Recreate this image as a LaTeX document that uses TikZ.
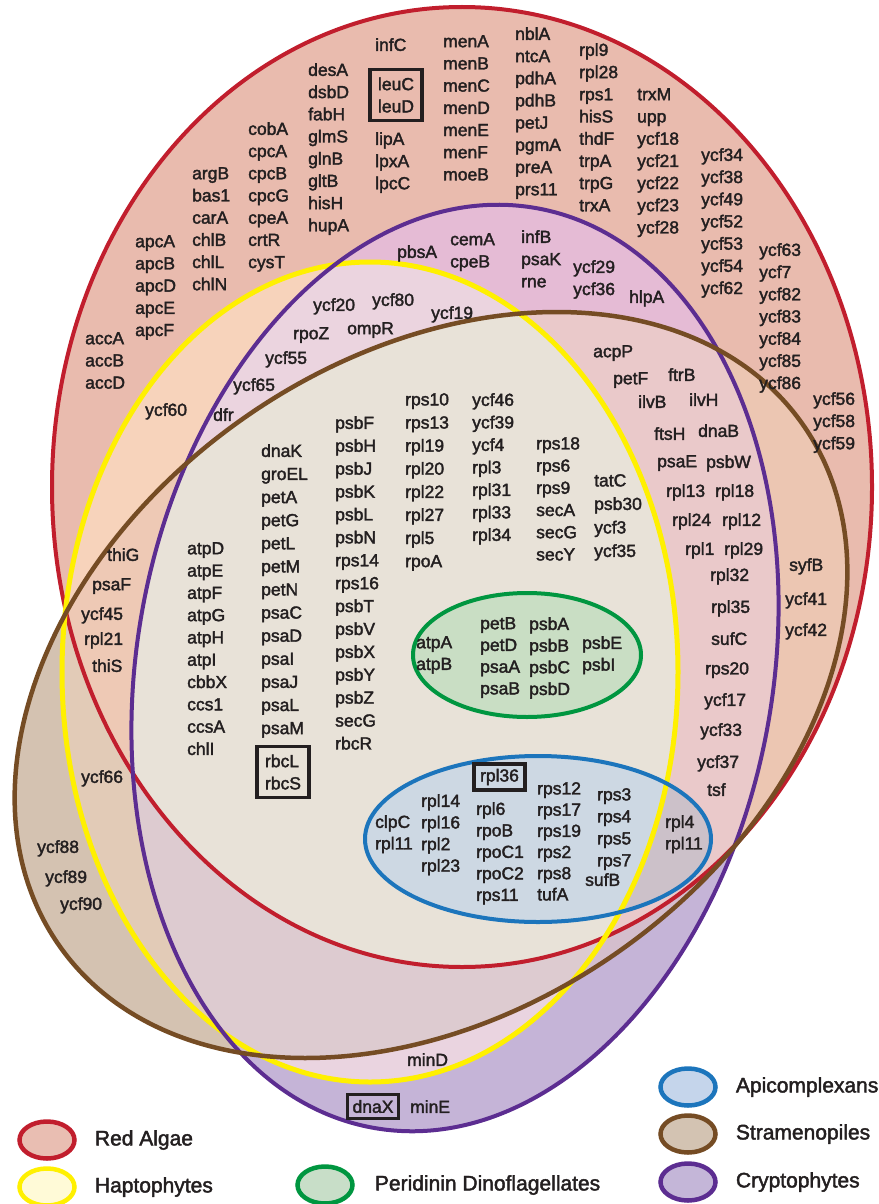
\documentclass[tikz,border=0pt]{standalone}
\usepackage{fontspec}
\setmainfont{Liberation Sans}
\newfontfamily\genefont{Liberation Sans}[RawFeature={embolden=2}]
\usetikzlibrary{positioning, shapes.geometric}

\definecolor{ink}{RGB}{35,31,32}
\definecolor{redline}{RGB}{193,30,45}
\definecolor{yelline}{RGB}{255,240,0}
\definecolor{purline}{RGB}{92,45,145}
\definecolor{brnline}{RGB}{117,76,36}
\definecolor{grnline}{RGB}{0,150,64}
\definecolor{bluline}{RGB}{28,117,188}
% zone fills (R=red algae, Y=haptophytes, P=cryptophytes, B=stramenopiles)
\definecolor{zR}{RGB}{233,187,174}
\definecolor{zP}{RGB}{197,180,215}
\definecolor{zB}{RGB}{212,194,177}
\definecolor{zRY}{RGB}{247,211,187}
\definecolor{zRP}{RGB}{229,187,213}
\definecolor{zRB}{RGB}{236,198,178}
\definecolor{zYP}{RGB}{234,212,224}
\definecolor{zYB}{RGB}{226,203,183}
\definecolor{zPB}{RGB}{212,190,205}
\definecolor{zRYP}{RGB}{235,212,223}
\definecolor{zRYB}{RGB}{238,201,181}
\definecolor{zRPB}{RGB}{234,201,202}
\definecolor{zYPB}{RGB}{221,203,208}
\definecolor{zRYPB}{RGB}{232,226,216}
\definecolor{grnfill}{RGB}{201,222,196}
\definecolor{blufill}{RGB}{205,216,227}
\definecolor{bluout}{RGB}{204,193,201}
% legend fills
\definecolor{keyR}{RGB}{233,190,178}
\definecolor{keyY}{RGB}{255,250,215}
\definecolor{keyG}{RGB}{200,222,200}
\definecolor{keyA}{RGB}{197,213,235}
\definecolor{keyS}{RGB}{211,195,178}
\definecolor{keyC}{RGB}{196,182,216}

\newcommand\redpath{(462,487) ellipse [x radius=410, y radius=480]}
\newcommand\yelpath{(370,672) ellipse [x radius=308, y radius=410]}
\newcommand\purpath{(455,668) ellipse [x radius=318, y radius=467, rotate=-10]}
\newcommand\brnpath{(431,685) ellipse [x radius=454, y radius=326, rotate=35]}
\newcommand\grnpath{(527,655) ellipse [x radius=114, y radius=62]}
\newcommand\blupath{(538,839) ellipse [x radius=173, y radius=83]}
\newcommand\zone[2]{\begin{scope}#2\fill[#1] (0,0) rectangle (878,1204);\end{scope}}

\tikzset{
  genes/.style={font=\genefont\fontsize{17.5}{#1}\selectfont, align=left, anchor=north west,
                inner sep=0pt, text=ink},
  genes/.default=22.2,
  boxed/.style={draw=ink, line width=3.5pt, inner sep=8pt, align=left,
                font=\genefont\fontsize{17.5}{22.2}\selectfont, text=ink},
  key/.style={ellipse, line width=4.5pt, minimum width=55pt, minimum height=37pt, inner sep=0pt},
  keytext/.style={font=\genefont\fontsize{21}{25}\selectfont, inner sep=0pt, text=ink}
}

\begin{document}
\begin{tikzpicture}[x=1pt, y=-1pt]
\useasboundingbox (0,0) rectangle (878,1204);

% overlap zones, painted from single sets up to all four
\zone{zR}{\clip\redpath;}
\zone{zP}{\clip\purpath;}
\zone{zB}{\clip\brnpath;}
\zone{zRY}{\clip\redpath;\clip\yelpath;}
\zone{zRP}{\clip\redpath;\clip\purpath;}
\zone{zRB}{\clip\redpath;\clip\brnpath;}
\zone{zYP}{\clip\yelpath;\clip\purpath;}
\zone{zYB}{\clip\yelpath;\clip\brnpath;}
\zone{zPB}{\clip\purpath;\clip\brnpath;}
\zone{zRYP}{\clip\redpath;\clip\yelpath;\clip\purpath;}
\zone{zRYB}{\clip\redpath;\clip\yelpath;\clip\brnpath;}
\zone{zRPB}{\clip\redpath;\clip\purpath;\clip\brnpath;}
\zone{zYPB}{\clip\yelpath;\clip\purpath;\clip\brnpath;}
\zone{zRYPB}{\clip\redpath;\clip\yelpath;\clip\purpath;\clip\brnpath;}

\fill[grnfill] \grnpath;
\fill[blufill] \blupath;
\begin{scope}
  \clip \blupath;
  \fill[bluout, even odd rule] (0,0) rectangle (878,1204) \yelpath;
\end{scope}

\draw[redline, line width=4pt] \redpath;
\draw[yelline, line width=5pt] \yelpath;
\draw[purline, line width=4pt] \purpath;
\draw[brnline, line width=4.5pt] \brnpath;
\draw[grnline, line width=4pt] \grnpath;
\draw[bluline, line width=4pt] \blupath;

% red algae only
\node[genes] (desCol) at (308,63) {desA\\dsbD\\fabH\\glmS\\glnB\\gltB\\hisH\\hupA};
\node[boxed] (leuBox) at (396,95) {leuC\\leuD};
\node[genes] (lipCol) at (375,132) {lipA\\lpxA\\lpcC};
\node[genes] (cobCol) at (248,122) {cobA\\cpcA\\cpcB\\cpcG\\cpeA\\crtR\\cysT};
\node[genes] (argCol) at (192,167) {argB\\bas1\\carA\\chlB\\chlL\\chlN};
\node[genes] (apcCol) at (135,235) {apcA\\apcB\\apcD\\apcE\\apcF};
\node[genes] (accCol) at (85,332) {accA\\accB\\accD};
\node[genes] (menCol) at (443,35) {menA\\menB\\menC\\menD\\menE\\menF\\moeB};
\node[genes] (nblCol) at (515,27) {nblA\\ntcA\\pdhA\\pdhB\\petJ\\pgmA\\preA\\prs11};
\node[genes] (rplNineCol) at (579,43) {rpl9\\rpl28\\rps1\\hisS\\thdF\\trpA\\trpG\\trxA};
\node[genes] (trxCol) at (637,88) {trxM\\upp\\ycf18\\ycf21\\ycf22\\ycf23\\ycf28};
\node[genes] (ycfA) at (701,148) {ycf34\\ycf38\\ycf49\\ycf52\\ycf53\\ycf54\\ycf62};
\node[genes] (ycfB) at (759,243) {ycf63\\ycf7\\ycf82\\ycf83\\ycf84\\ycf85\\ycf86};
\node[genes] (ycfC) at (813,392) {ycf56\\ycf58\\ycf59};

% red algae + cryptophytes
\node[genes] (cemCol) at (450,233) {cemA\\cpeB};
\node[genes] (infBCol) at (521,230) {infB\\psaK\\rne};
\node[genes] (ycfD) at (573,260) {ycf29\\ycf36};

% single genes
\foreach \gx/\gy/\gn in {375/38/infC, 397/245/pbsA, 629/290/hlpA,
    313/298/ycf20, 372/293/ycf80, 431/306/ycf19, 293/327/rpoZ, 347/322/ompR,
    265/351/ycf55, 233/378/ycf65, 213/408/dfr, 145/403/ycf60,
    593/345/acpP, 613/372/petF, 668/368/ftrB, 638/395/ilvB, 689/393/ilvH,
    654/427/ftsH, 698/424/dnaB, 657/455/psaE, 706/455/psbW,
    666/484/rpl13, 715/484/rpl18, 672/513/rpl24, 722/513/rpl12,
    685/542/rpl1, 724/542/rpl29, 710/568/rpl32, 711/600/rpl35,
    711/632/sufC, 705/662/rps20, 704/693/ycf17, 700/723/ycf33,
    697/755/ycf37, 707/783/tsf, 789/558/syfB, 785/592/ycf41, 785/623/ycf42,
    107/548/thiG, 92/578/psaF, 81/607/ycf45, 84/632/rpl21, 92/659/thiS,
    81/770/ycf66, 37/840/ycf88, 45/870/ycf89, 60/897/ycf90,
    585/873/sufB, 407/1053/minD, 410/1100/minE}
  \node[genes] (\gn) at (\gx,\gy) {\gn};

% shared by all four
\node[genes=22.3] (atpCol) at (187,542) {atpD\\atpE\\atpF\\atpG\\atpH\\atpI\\cbbX\\ccs1\\ccsA\\chlI};
\node[genes=23.1] (dnaCol) at (261,444) {dnaK\\groEL\\petA\\petG\\petL\\petM\\petN\\psaC\\psaD\\psaI\\psaJ\\psaL\\psaM};
\node[boxed] (rbcBox) at (283,772) {rbcL\\rbcS};
\node[genes=22.9] (psbCol) at (335,416) {psbF\\psbH\\psbJ\\psbK\\psbL\\psbN\\rps14\\rps16\\psbT\\psbV\\psbX\\psbY\\psbZ\\secG\\rbcR};
\node[genes=23.1] (rpsCol) at (405,393) {rps10\\rps13\\rpl19\\rpl20\\rpl22\\rpl27\\rpl5\\rpoA};
\node[genes=22.5] (ycfE) at (472,393) {ycf46\\ycf39\\ycf4\\rpl3\\rpl31\\rpl33\\rpl34};
\node[genes=22.2] (rpsEight) at (536,437) {rps18\\rps6\\rps9\\secA\\secG\\secY};
\node[genes=23.5] (tatCol) at (594,474) {tatC\\psb30\\ycf3\\ycf35};

% peridinin dinoflagellates
\node[genes=21.7] (atpAB) at (416,636) {atpA\\atpB};
\node[genes=21.7] (petCol) at (480,617) {petB\\petD\\psaA\\psaB};
\node[genes=21.7] (psbACol) at (529,617) {psbA\\psbB\\psbC\\psbD};
\node[genes=21.7] (psbECol) at (582,636) {psbE\\psbI};

% apicomplexans
\node[genes=21.6] (clpCol) at (375,815) {clpC\\rpl11};
\node[genes=21.6] (rplCol) at (421,794) {rpl14\\rpl16\\rpl2\\rpl23};
\node[boxed, inner xsep=6pt, inner ysep=5pt] (rplBox) at (499.5,777) {rpl36};
\node[genes=21.5] (rpoCol) at (476,802) {rpl6\\rpoB\\rpoC1\\rpoC2\\rps11};
\node[genes=21.2] (rpsTwelve) at (537,782) {rps12\\rps17\\rps19\\rps2\\rps8\\tufA};
\node[genes=22] (rpsThree) at (597,788) {rps3\\rps4\\rps5\\rps7};
\node[genes=21.6] (rplFour) at (665,815) {rpl4\\rpl11};

\node[boxed, inner xsep=5pt, inner ysep=5.5pt] (dnaBox) at (373,1106.5) {dnaX};

% legend
\node[key, draw=redline, fill=keyR] (keyRed) at (47,1140) {};
\node[keytext, right=18pt of keyRed] (txtRed) {Red Algae};
\node[key, draw=yelline, fill=keyY] (keyHap) at (47,1187) {};
\node[keytext, right=18pt of keyHap] (txtHap) {Haptophytes};
\node[key, draw=grnline, fill=keyG] (keyPer) at (325,1185) {};
\node[keytext, right=20pt of keyPer] (txtPer) {Peridinin Dinoflagellates};
\node[key, draw=bluline, fill=keyA] (keyApi) at (688,1087) {};
\node[keytext, right=18pt of keyApi] (txtApi) {Apicomplexans};
\node[key, draw=brnline, fill=keyS] (keyStr) at (688,1134) {};
\node[keytext, right=18pt of keyStr] (txtStr) {Stramenopiles};
\node[key, draw=purline, fill=keyC] (keyCry) at (688,1182) {};
\node[keytext, right=18pt of keyCry] (txtCry) {Cryptophytes};
\end{tikzpicture}
\end{document}
